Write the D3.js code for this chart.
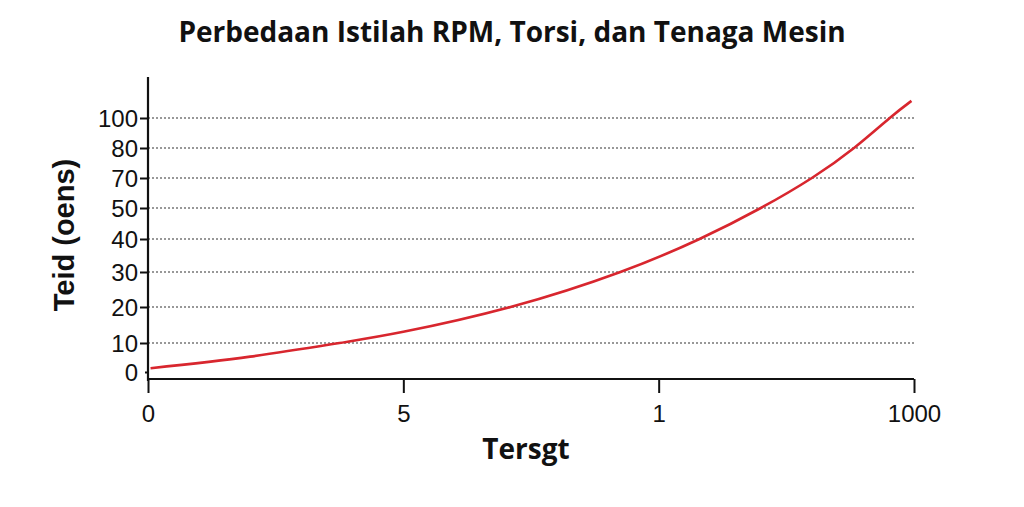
<!DOCTYPE html>
<html><head><meta charset="utf-8">
<script src="https://cdn.jsdelivr.net/npm/d3@7/dist/d3.min.js"></script>
<style>body{margin:0;background:#fff}</style>
</head><body>
<svg id="c" width="1024" height="507"></svg>
<script>
const title = "Perbedaan Istilah RPM, Torsi, dan Tenaga Mesin";
const xLabel = "Tersgt";
const yLabel = "Teid (oens)";
const xTickLabels = ["0", "5", "1", "1000"];
const yTickValues = [0, 10, 20, 30, 40, 50, 70, 80, 100];
const yTickLabels = ["0", "10", "20", "30", "40", "50", "70", "80", "100"];
// curve: x in tick-index units, y in axis units
const curveX = [0.01, 0.4, 0.75, 1.0, 1.42, 1.85, 2.16, 2.4, 2.6, 2.765, 2.905, 2.99];
const curveY = [1.3, 5.3, 10, 13.1, 20, 30, 40, 50, 70, 80, 100, 112.7];

const svg = d3.select("#c");
const x = d3.scaleLinear().domain([0, 3]).range([148, 914]);
// axis positions of labelled gridlines (non-uniform)
const y = d3.scaleLinear().domain(yTickValues.concat([120]))
  .range([372, 343, 307, 272, 239, 208, 178, 148, 118, 91]);

svg.append("text").attr("x", 512).attr("y", 42).attr("text-anchor", "middle")
  .attr("font-family", "Open Sans").attr("font-weight", "bold").attr("font-size", 28)
  .attr("fill", "#111").text(title);

// gridlines
svg.append("g").selectAll("line").data(yTickValues.filter(d => d > 0)).join("line")
  .attr("x1", 148).attr("x2", 914).attr("y1", d => y(d)).attr("y2", d => y(d))
  .attr("stroke", "#777").attr("stroke-width", 1.3).attr("stroke-dasharray", "2,2");

// y axis
const yAxis = d3.axisLeft(y).tickValues(yTickValues).tickSize(8)
  .tickFormat((d, i) => yTickLabels[i]);
const gy = svg.append("g").attr("transform", "translate(148,0)").call(yAxis);
gy.select(".domain").remove();
gy.selectAll(".tick line").attr("stroke", "#111").attr("stroke-width", 2);
gy.selectAll(".tick text").attr("font-family", "Liberation Sans").attr("font-size", 24)
  .attr("fill", "#111").attr("x", -10).attr("dy", "0.36em");
gy.selectAll(".tick").filter(d => d === 0).select("line").attr("x2", -3);
svg.append("line").attr("x1", 148).attr("x2", 148).attr("y1", 77).attr("y2", 381)
  .attr("stroke", "#111").attr("stroke-width", 2.2);

// x axis
const xAxis = d3.axisBottom(x).tickValues([0, 1, 2, 3]).tickSize(14)
  .tickFormat((d, i) => xTickLabels[i]);
const gx = svg.append("g").attr("transform", "translate(0,379)").call(xAxis);
gx.select(".domain").attr("stroke", "#111").attr("stroke-width", 2.2)
  .attr("d", "M148,0H914");
gx.selectAll(".tick line").attr("stroke", "#111").attr("stroke-width", 2);
gx.selectAll(".tick text").attr("font-family", "Liberation Sans").attr("font-size", 24)
  .attr("fill", "#111").attr("y", 26);

// labels
svg.append("text").attr("x", 526).attr("y", 459).attr("text-anchor", "middle")
  .attr("font-family", "Open Sans").attr("font-weight", "bold").attr("font-size", 28)
  .attr("fill", "#111").text(xLabel);
svg.append("text").attr("transform", "translate(74,235) rotate(-90)")
  .attr("text-anchor", "middle").attr("font-family", "Liberation Sans")
  .attr("font-weight", "bold").attr("font-size", 29).attr("fill", "#111").text(yLabel);

// curve
const pts = curveX.map((d, i) => [d, curveY[i]]);
svg.append("path").datum(pts)
  .attr("d", d3.line().x(d => x(d[0])).y(d => y(d[1])).curve(d3.curveNatural))
  .attr("fill", "none").attr("stroke", "#d8262e").attr("stroke-width", 2.6);
</script>
</body></html>
